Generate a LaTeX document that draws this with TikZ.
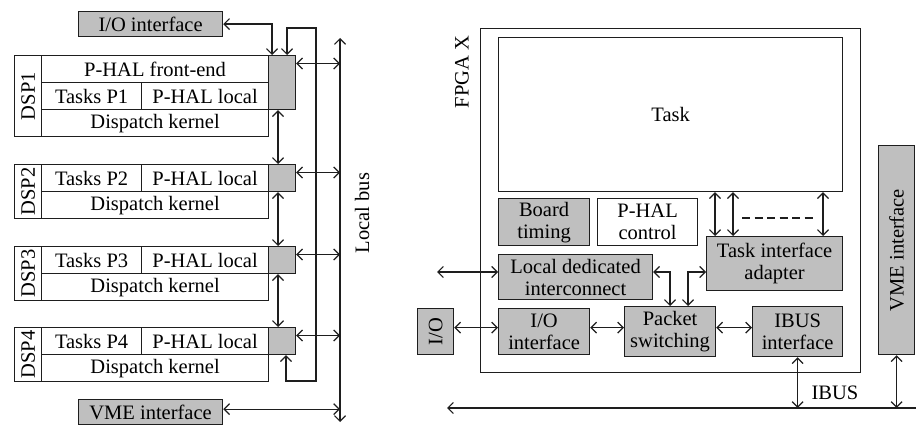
\documentclass[tikz,border=0pt]{standalone}
\usepackage{fontspec}
\setmainfont{Liberation Serif}
\usetikzlibrary{arrows.meta,calc}
\definecolor{boxgray}{RGB}{191,191,191}
\definecolor{ink}{RGB}{30,30,30}
\begin{document}
\begin{tikzpicture}[x=1pt,y=-1pt, line width=1.2pt, draw=ink,
  >={Straight Barb[length=5.5pt,width=11pt]},
  box/.style={draw=ink, fill=white, anchor=north west, inner sep=0pt, align=center, font=\fontsize{20.5}{22}\selectfont},
  gbox/.style={box, fill=boxgray},
  lbl/.style={font=\fontsize{20.5}{22}\selectfont, inner sep=0pt},
  con/.style={draw=ink, <->}]
\useasboundingbox (0,0) rectangle (916,425);

% ---------------- left part ----------------
\node[gbox, minimum width=144pt, minimum height=25pt] (io1) at (78,11) {I/O interface};

\node[box, minimum width=27pt, minimum height=81pt, label={[lbl,rotate=90]center:DSP1}] (dsp1) at (14,55) {};
\node[box, minimum width=227pt, minimum height=27pt] (fe1) at (41,55) {P-HAL front-end};
\node[box, minimum width=100pt, minimum height=27pt] (t1) at (41,82) {Tasks P1};
\node[box, minimum width=127pt, minimum height=27pt] (l1) at (141,82) {P-HAL local};
\node[box, minimum width=227pt, minimum height=27pt] (k1) at (41,109) {Dispatch kernel};
\node[gbox, minimum width=27pt, minimum height=54pt] (g1) at (268,55) {};

\foreach \n/\y in {2/164,3/246,4/327}{
  \node[box, minimum width=27pt, minimum height=54pt, label={[lbl,rotate=90]center:DSP\n}] (dsp\n) at (14,\y) {};
  \node[box, minimum width=100pt, minimum height=27pt] (t\n) at (41,\y) {Tasks P\n};
  \node[box, minimum width=127pt, minimum height=27pt] (l\n) at (141,\y) {P-HAL local};
  \node[box, minimum width=227pt, minimum height=27pt] (k\n) at (41,\y+27) {Dispatch kernel};
  \node[gbox, minimum width=27pt, minimum height=27pt] (g\n) at (268,\y) {};
}

\node[gbox, minimum width=144pt, minimum height=25pt] (vme1) at (78,399) {VME interface};

\coordinate (lbtop) at (340,38);
\coordinate (lbbot) at (340,422);
\draw[con] (lbtop) -- (lbbot);
\node[lbl, rotate=90] (lbus) at (362,213) {Local bus};

\draw[con] (io1.east) -| ($(g1.north west)+(4,0)$);
\draw[con] ($(g1.north west)+(19,0)$) -- ++(0,-27) -| (316,381) -| ($(g4.south west)+(18,0)$);

\foreach \n in {1,...,4}{
  \path ($(g\n.north east)+(0,8.5)$) coordinate (b\n);
  \draw[con] (b\n) -- (b\n -| lbtop);
}
\foreach \a/\b in {1/2,2/3,3/4}
  \draw[con] ($(g\a.south west)+(10,0)$) -- ($(g\b.north west)+(10,0)$);

\path ($(vme1.east)+(0,-3)$) coordinate (v1);
\draw[con] (v1) -- (v1 -| lbtop);

% ---------------- right part ----------------
\node[box, minimum width=380pt, minimum height=344pt] (fpga) at (480,28) {};
\node[lbl, rotate=90] (fpgal) at (462,72) {FPGA X};
\node[box, minimum width=344pt, minimum height=154pt] (task) at (498,37) {Task};
\node[gbox, minimum width=91pt, minimum height=47pt] (bt) at (498,198) {Board\\timing};
\node[box, minimum width=100pt, minimum height=47pt] (phc) at (597,198) {P-HAL\\control};
\node[gbox, minimum width=136pt, minimum height=54pt] (tia) at (706,236) {Task interface\\adapter};
\node[gbox, minimum width=154pt, minimum height=45pt] (ldi) at (498,254) {Local dedicated\\interconnect};
\node[gbox, minimum width=91pt, minimum height=46pt] (iof) at (498,308) {I/O\\interface};
\node[gbox, minimum width=36pt, minimum height=46pt, label={[lbl,rotate=90]center:I/O}] (io2) at (417,308) {};
\node[gbox, minimum width=91pt, minimum height=50pt] (ps) at (624,306) {Packet\\switching};
\node[gbox, minimum width=90pt, minimum height=50pt] (ibi) at (752,306) {IBUS\\interface};
\node[gbox, minimum width=36pt, minimum height=209pt, label={[lbl,rotate=90]center:VME interface}] (vme2) at (878,145) {};

\foreach \dx in {9,27,117}{
  \path ($(tia.north west)+(\dx,0)$) coordinate (ta\dx);
  \draw[con] (task.south -| ta\dx) -- (ta\dx);
}
\draw[draw=ink, dash pattern=on 8pt off 4.5pt] ($(tia.north west)+(36,-18)$) -- ($(tia.north west)+(109,-18)$);

\coordinate (ldix) at (437,272);
\draw[con] (ldix) -- (ldix -| ldi.west);

\path ($(io2.east)+(0,-4)$) coordinate (c1);
\draw[con] (c1) -- (c1 -| iof.west);
\draw[con] (c1 -| iof.east) -- (c1 -| ps.west);
\draw[con] (c1 -| ps.east) -- (c1 -| ibi.west);

\draw[con] (ldix -| ldi.east) -| ($(ps.north west)+(46,0)$);
\draw[con] (ldix -| tia.west) -| ($(ps.north west)+(64,0)$);

\coordinate (ibl) at (447,408);
\coordinate (ibr) at (923,408);
\draw[con] (ibl) -- (ibr);
\draw[con] (ibi.south) -- (ibi.south |- ibl);
\draw[con] (vme2.south) -- (vme2.south |- ibl);
\node[lbl] (ibusl) at (835,393) {IBUS};
\end{tikzpicture}
\end{document}
